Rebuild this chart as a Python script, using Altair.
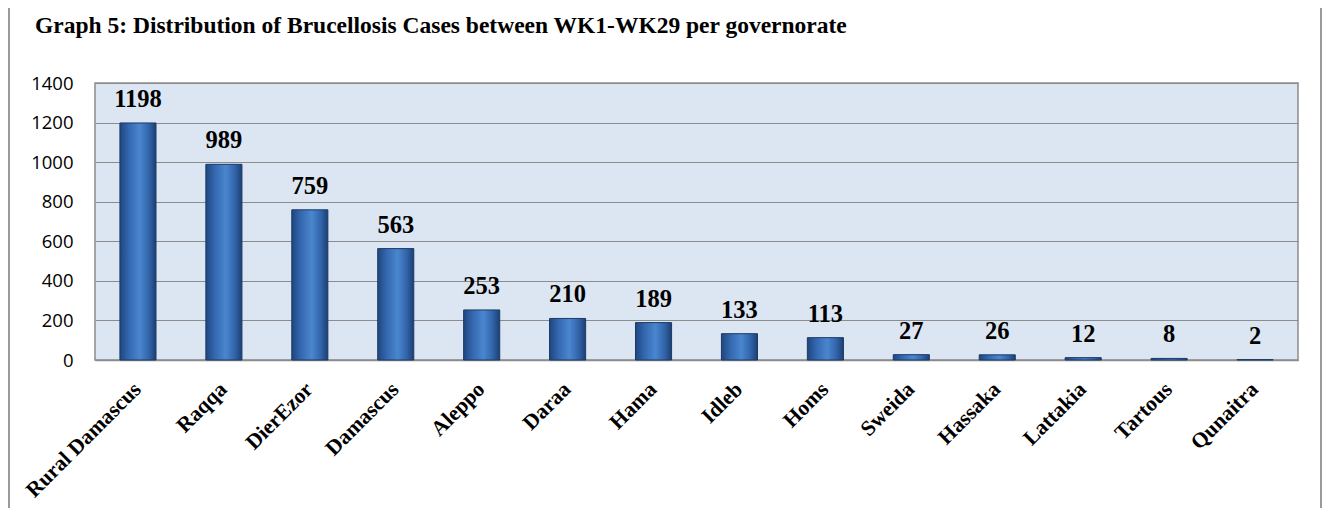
import altair as alt
import pandas as pd

governorates = ["Rural Damascus", "Raqqa", "DierEzor", "Damascus", "Aleppo", "Daraa", "Hama",
                "Idleb", "Homs", "Sweida", "Hassaka", "Lattakia", "Tartous", "Qunaitra"]
cases = [1198, 989, 759, 563, 253, 210, 189, 133, 113, 27, 26, 12, 8, 2]
y_ticks = [0, 200, 400, 600, 800, 1000, 1200, 1400]
title_text = "Graph 5: Distribution of Brucellosis Cases between WK1-WK29 per governorate"

df = pd.DataFrame({"gov": governorates, "cases": cases})

serif = "Liberation Serif"

x_enc = alt.X("gov:N", sort=governorates, title=None,
              scale=alt.Scale(paddingInner=0.58, paddingOuter=0.29),
              axis=alt.Axis(labelAngle=-45, labelAlign="right", labelBaseline="middle",
                            labelFont=serif, labelFontWeight="bold", labelFontSize=21.5,
                            labelColor="black", labelPadding=26, ticks=False,
                            domainColor="#8c8c8c", domainWidth=1.5, labelLimit=300))
y_enc = alt.Y("cases:Q", title=None,
              scale=alt.Scale(domain=[0, 1400], nice=False),
              axis=alt.Axis(values=y_ticks, format="d", labelOverlap=False,
                            labelFont="Open Sans", labelFontSize=18.5,
                            labelColor="black", labelPadding=22, ticks=False,
                            domain=False,
                            gridColor="#8c8c8c", gridWidth=1.2, gridOpacity=1))

grad = alt.Gradient(gradient="linear", x1=0, x2=1, y1=0, y2=0,
                    stops=[alt.GradientStop(offset=0, color="#1f467f"),
                           alt.GradientStop(offset=0.25, color="#3468b0"),
                           alt.GradientStop(offset=0.55, color="#4a86cf"),
                           alt.GradientStop(offset=0.8, color="#3265aa"),
                           alt.GradientStop(offset=1, color="#1c3f73")])

bars = alt.Chart(df).mark_bar(color=grad, stroke="#1b3a66", strokeWidth=1).encode(x=x_enc, y=y_enc)

labels = alt.Chart(df).mark_text(font=serif, fontWeight="bold", fontSize=24.5, color="black",
                                 baseline="alphabetic", dy=-16).encode(
    x=x_enc, y=y_enc, text="cases:Q")

frame = alt.Chart(df).mark_rect(fill=None, stroke="#9a9a9a", strokeWidth=2).encode(
    x=alt.value(-86), x2=alt.value(1226), y=alt.value(-79), y2=alt.value(460))

chart = alt.layer(bars, labels, frame).properties(
    width=1203, height=277,
    title=alt.TitleParams(title_text, anchor="start", dx=27, offset=-34,
                          font=serif, fontWeight="bold", fontSize=23.5, color="black"),
    padding={"left": 87, "top": 75, "right": 24, "bottom": 148},
    autosize=alt.AutoSizeParams(type="none"),
    background="white",
).configure_view(fill="#dce6f2", stroke="#8c8c8c", strokeWidth=1.5)

chart.save("out.html", embed_options={"renderer": "svg", "actions": False})
